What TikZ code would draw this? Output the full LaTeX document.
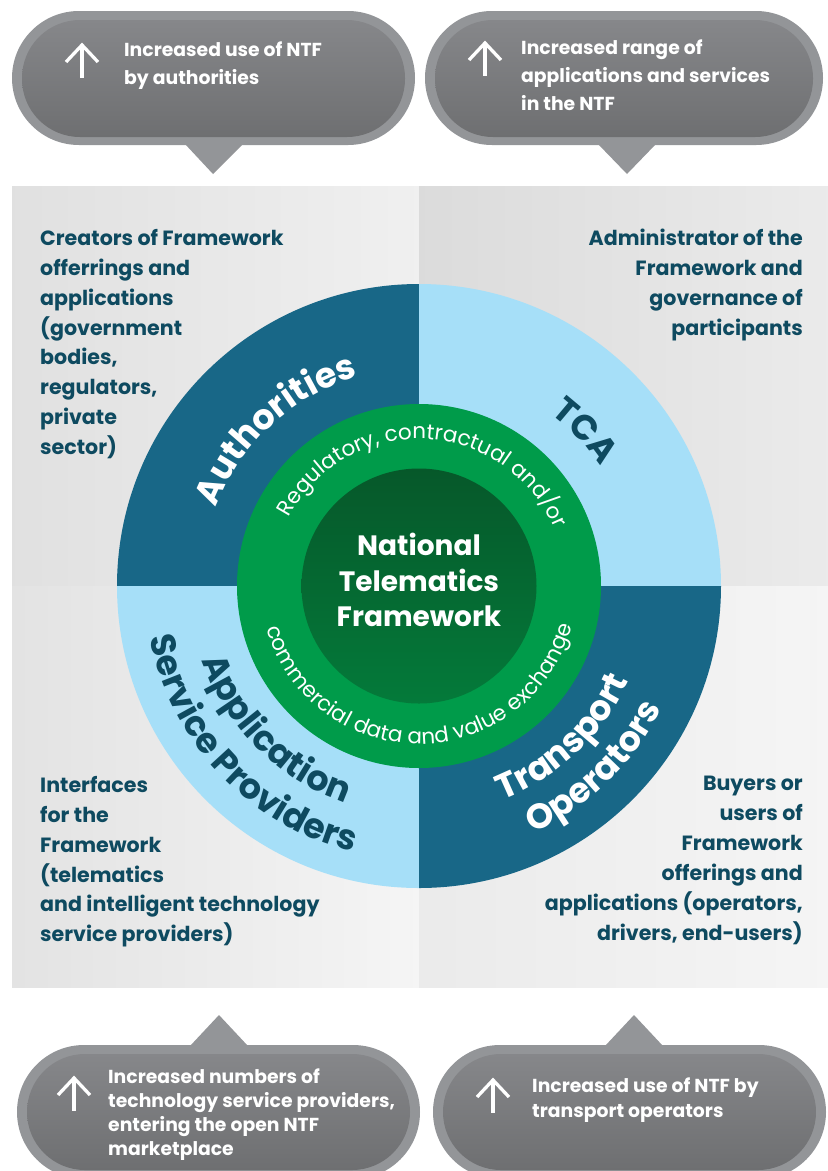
\documentclass[tikz,border=0pt]{standalone}
\usepackage{fontspec}
\setmainfont{Poppins}
\usepackage{tikz}
\usetikzlibrary{decorations.text}
\definecolor{ntfdeep}{RGB}{24,103,135}
\definecolor{ntfsky}{RGB}{166,223,248}
\definecolor{ntfink}{RGB}{14,74,96}
\definecolor{ringgreen}{RGB}{0,155,74}
\definecolor{coretop}{RGB}{6,88,42}
\definecolor{corebot}{RGB}{4,122,58}
\definecolor{callrim}{RGB}{147,149,152}
\definecolor{pilltop}{RGB}{134,135,138}
\definecolor{pillbot}{RGB}{110,111,113}
\newcommand{\sectorfont}{\bfseries\fontsize{35}{35}\selectfont}
\newcommand{\ringfont}{\fontsize{21.5}{21.5}\selectfont}
% up arrow icon, apex at #1
\newcommand{\upicon}[1]{%
  \draw[upicon] #1 ++(-16,-17) -- #1 -- ++(16,-17);
  \draw[upicon] #1 -- ++(0,-33);}

\begin{document}
\begin{tikzpicture}[x=1pt, y=1pt,
  quadtext/.style={font=\bfseries\fontsize{20.6}{29.9}\selectfont, text=ntfink, inner sep=0pt},
  calltext/.style={font=\bfseries\fontsize{18.8}{28}\selectfont, text=white, align=left,
                   inner sep=0pt, anchor=north west},
  upicon/.style={white, line width=3.3pt},
  rim/.style={fill=callrim},
  pill/.style={top color=pilltop, bottom color=pillbot},
  arclabel/.style={decorate, decoration={text along path, text align=center, text={#1}}}]

  \useasboundingbox (0,0) rectangle (828,-1171);
  \clip (0,0) rectangle (828,-1171);
  \coordinate (hub) at (419,-586);

  %% quadrant backgrounds
  \shade[left color=black!12, right color=black!6] (12,-186) rectangle (419,-586);
  \shade[left color=black!14, right color=black!8] (419,-186) rectangle (828,-586);
  \shade[left color=black!11, right color=black!4] (12,-586) rectangle (419,-987);
  \shade[left color=black!8, right color=black!4] (419,-586) rectangle (828,-987);

  %% four sectors
  \foreach \a/\col in {90/ntfdeep, 0/ntfsky, 180/ntfsky, 270/ntfdeep}
    \fill[\col] (hub) -- +(\a:302) arc[start angle=\a, end angle=\a+90, radius=302] -- cycle;

  %% green ring and core
  \fill[ringgreen] (hub) circle[radius=182];
  \shade[top color=coretop, bottom color=corebot] (hub) circle[radius=117.5];
  \node[font=\bfseries\fontsize{28}{35.5}\selectfont, text=white, align=center, inner sep=0pt]
    (core) at (419,-580) {National\\Telematics\\Framework};

  %% ring text
  \path[arclabel={|\ringfont\color{white}|Regulatory, contractual and/or}]
    ([shift={(165:147)}]hub) arc[start angle=165, end angle=10, radius=147];
  \path[arclabel={|\ringfont\color{white}|commercial data and value exchange}]
    ([shift={(185:158)}]hub) arc[start angle=185, end angle=356, radius=158];

  %% sector labels
  \path[arclabel={|\sectorfont\color{white}|Authorities}]
    ([shift={(180:218)}]hub) arc[start angle=180, end angle=85, radius=218];
  \path[arclabel={|\sectorfont\color{ntfink}|TCA}]
    ([shift={(90:217)}]hub) arc[start angle=90, end angle=-4, radius=217];
  \path[arclabel={|\sectorfont\color{ntfink}|Application}]
    ([shift={(180:229)}]hub) arc[start angle=180, end angle=270, radius=229];
  \path[arclabel={|\sectorfont\color{ntfink}|Service Providers}]
    ([shift={(175:274)}]hub) arc[start angle=175, end angle=272, radius=274];
  \path[arclabel={|\sectorfont\color{white}|Transport}]
    ([shift={(270:230)}]hub) arc[start angle=270, end angle=357, radius=230];
  \path[arclabel={|\sectorfont\color{white}|Operators}]
    ([shift={(270:272)}]hub) arc[start angle=270, end angle=358, radius=272];

  %% quadrant notes
  \node[quadtext, align=left, anchor=north west] (creators) at (40,-229)
    {Creators of Framework\\offerrings and\\applications\\(government\\bodies,\\regulators,\\private\\sector)};
  \node[quadtext, align=right, anchor=north east] (admin) at (803,-229)
    {Administrator of the\\Framework and\\governance of\\participants};
  \node[quadtext, align=left, anchor=north west] (interfaces) at (40,-776)
    {Interfaces\\for the\\Framework\\(telematics\\and intelligent technology\\service providers)};
  \node[quadtext, align=right, anchor=north east] (buyers) at (803,-776)
    {Buyers or\\users of\\Framework\\offerings and\\applications (operators,\\drivers, end-users)};

  %% callouts, top
  \fill[rim, rounded corners=67pt] (12,-11) rectangle (415,-145);
  \fill[rim] (185,-144) -- (243,-144) -- (213,-174) -- cycle;
  \shade[pill, rounded corners=58pt] (22,-20) rectangle (405,-137);
  \upicon{(82,-45)}
  \node[calltext] (authgain) at (124,-42) {Increased use of NTF\\by authorities};

  \fill[rim, rounded corners=67pt] (425,-11) rectangle (823,-145);
  \fill[rim] (598,-144) -- (656,-144) -- (627,-174) -- cycle;
  \shade[pill, rounded corners=58pt] (435,-20) rectangle (813,-137);
  \upicon{(485,-43)}
  \node[calltext] (rangegain) at (521,-40) {Increased range of\\applications and services\\in the NTF};

  %% callouts, bottom
  \fill[rim, rounded corners=67pt] (17,-1045) rectangle (420,-1179);
  \fill[rim] (190,-1046) -- (248,-1046) -- (219,-1015) -- cycle;
  \shade[pill, rounded corners=58pt] (27,-1054) rectangle (410,-1170);
  \upicon{(74,-1078)}
  \node[calltext, font=\bfseries\fontsize{18.8}{24}\selectfont] (providergain) at (108,-1069)
    {Increased numbers of\\technology service providers,\\entering the open NTF\\marketplace};

  \fill[rim, rounded corners=67pt] (433,-1045) rectangle (826,-1179);
  \fill[rim] (605,-1046) -- (663,-1046) -- (634,-1015) -- cycle;
  \shade[pill, rounded corners=58pt] (443,-1054) rectangle (816,-1170);
  \upicon{(493,-1080)}
  \node[calltext, font=\bfseries\fontsize{18.8}{25}\selectfont] (operatorgain) at (532,-1078)
    {Increased use of NTF by\\transport operators};
\end{tikzpicture}
\end{document}
